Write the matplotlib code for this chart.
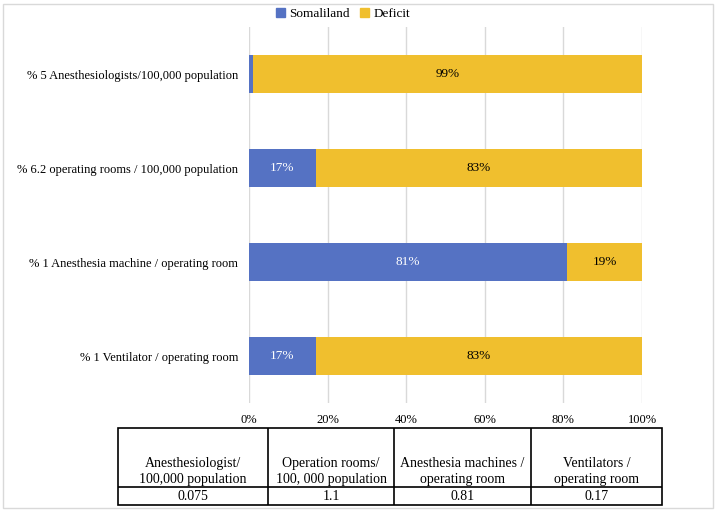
import numpy as np
import matplotlib.pyplot as plt
from matplotlib.patches import Rectangle, Patch

plt.rcParams['font.family'] = ['Liberation Serif', 'DejaVu Serif']
size = 9

categories = ['% 5 Anesthesiologists/100,000 population',
              '% 6.2 operating rooms / 100,000 population',
              '% 1 Anesthesia machine / operating room',
              '% 1 Ventilator / operating room']
somaliland = [1, 17, 81, 17]
deficit = [99, 83, 19, 83]
xticks = [0, 20, 40, 60, 80, 100]

table_headers = ['Anesthesiologist/\n100,000 population',
                 'Operation rooms/\n100, 000 population',
                 'Anesthesia machines /\noperating room',
                 'Ventilators /\noperating room']
table_values = ['0.075', '1.1', '0.81', '0.17']

blue = '#5572C3'
yellow = '#F0BF2E'
W, H = 716, 512

fig = plt.figure(figsize=(W/100, H/100), dpi=100)
# outer frame
fig.patches.append(Rectangle((3/W, 4/H), 710/W, 504/H, transform=fig.transFigure,
                             fill=False, edgecolor='#D9D9D9', lw=1))

ax = fig.add_axes([249/W, 1-403/H, 393/W, 376/H])
y = np.arange(len(categories))
b1 = ax.barh(y, somaliland, height=0.4, color=blue, label='Somaliland')
b2 = ax.barh(y, deficit, left=somaliland, height=0.4, color=yellow, label='Deficit')
for bar, v in zip(b1, somaliland):
    if v >= 5:
        ax.text(bar.get_x()+bar.get_width()/2, bar.get_y()+bar.get_height()/2, f'{v}%',
                ha='center', va='center', color='white', fontsize=9.5)
for bar, v in zip(b2, deficit):
    ax.text(bar.get_x()+bar.get_width()/2, bar.get_y()+bar.get_height()/2, f'{v}%',
            ha='center', va='center', color='black', fontsize=9.5)

ax.set_xlim(0, 100)
ax.set_ylim(len(categories)-0.5, -0.5)
ax.set_yticks(y)
ax.set_yticklabels(categories, fontsize=size)
ax.set_xticks(xticks)
ax.set_xticklabels([f'{t}%' for t in xticks], fontsize=size)
ax.tick_params(length=0, axis='y', pad=8)
ax.tick_params(length=0, axis='x', pad=8)
for s in ax.spines.values():
    s.set_visible(False)
ax.xaxis.grid(True, color='#D9D9D9', lw=1)
ax.set_axisbelow(True)

handles = [Patch(color=blue), Patch(color=yellow)]
fig.legend(handles, ['Somaliland', 'Deficit'], loc='center', bbox_to_anchor=(343/W, 1-14/H),
           ncol=2, frameon=False, fontsize=9.5, handlelength=0.7, handleheight=0.7,
           handletextpad=0.3, columnspacing=0.8)

# table below the chart
col_w = np.array([150, 126, 137, 131], dtype=float)
edges = np.concatenate([[0], np.cumsum(col_w)]) / col_w.sum()
tax = fig.add_axes([118/W, 1-505/H, 544/W, 77/H])
tax.set_xlim(0, 1)
tax.set_ylim(0, 1)
tax.axis('off')
row_split = 18/77
tax.add_patch(Rectangle((0, 0), 1, 1, fill=False, edgecolor='black', lw=1.2, clip_on=False))
tax.plot([0, 1], [row_split, row_split], color='black', lw=1.2)
for e in edges[1:-1]:
    tax.plot([e, e], [0, 1], color='black', lw=1.2)
for i, (h, v) in enumerate(zip(table_headers, table_values)):
    cx = (edges[i]+edges[i+1])/2
    tax.text(cx, row_split+0.015, h, ha='center', va='bottom', fontsize=10, linespacing=1.3)
    tax.text(cx, row_split/2, v, ha='center', va='center', fontsize=10)

plt.savefig('out.png', dpi=100)
